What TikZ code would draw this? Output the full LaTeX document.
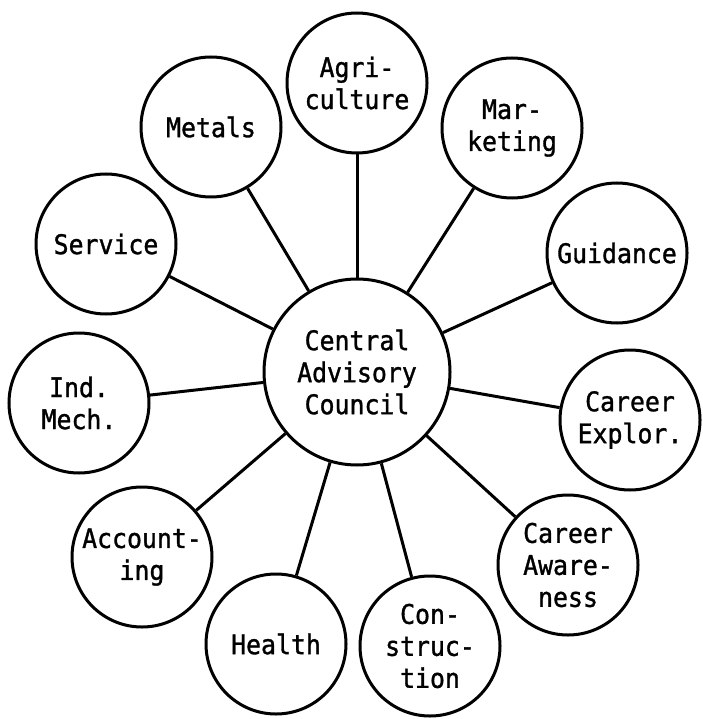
\documentclass[tikz,border=0pt]{standalone}
\usepackage{fontspec}
\newfontfamily\labelfont[FakeStretch=0.92,FakeBold=1.2]{DejaVu Sans Mono}
\begin{document}
\begin{tikzpicture}[x=1pt,y=-1pt,
  bubble/.style={draw=black,line width=3pt,circle,inner sep=0pt,
    minimum size=140pt,align=center,
    font=\labelfont\fontsize{27}{32}\selectfont},
  hub/.style={bubble,minimum size=186pt},
  spoke/.style={draw=black,line width=3pt}]
  \useasboundingbox (0,0) rectangle (702,719);
  \fill[white] (0,0) rectangle (702,719);

  % central council
  \node[hub] (cac) at (357,372) {Central\\Advisory\\Council};

  % advisory committees around it
  \node[bubble] (agr) at (357,83)  {Agri-\\culture};
  \node[bubble] (met) at (211,127) {Metals};
  \node[bubble] (mkt) at (512,128) {Mar-\\keting};
  \node[bubble] (ser) at (106,244) {Service};
  \node[bubble] (gui) at (617,253) {Guidance};
  \node[bubble] (ind) at (79,403)  {Ind.\\Mech.};
  \node[bubble] (exp) at (630,420) {Career\\Explor.};
  \node[bubble] (acc) at (142,557) {Account-\\ing};
  \node[bubble] (car) at (568,565) {Career\\Aware-\\ness};
  \node[bubble] (hea) at (276,644) {Health};
  \node[bubble] (con) at (430,646) {Con-\\struc-\\tion};

  % spokes
  \foreach \s in {agr,met,mkt,ser,gui,ind,exp,acc,car,hea,con}
    \draw[spoke] (cac) -- (\s);
\end{tikzpicture}
\end{document}
